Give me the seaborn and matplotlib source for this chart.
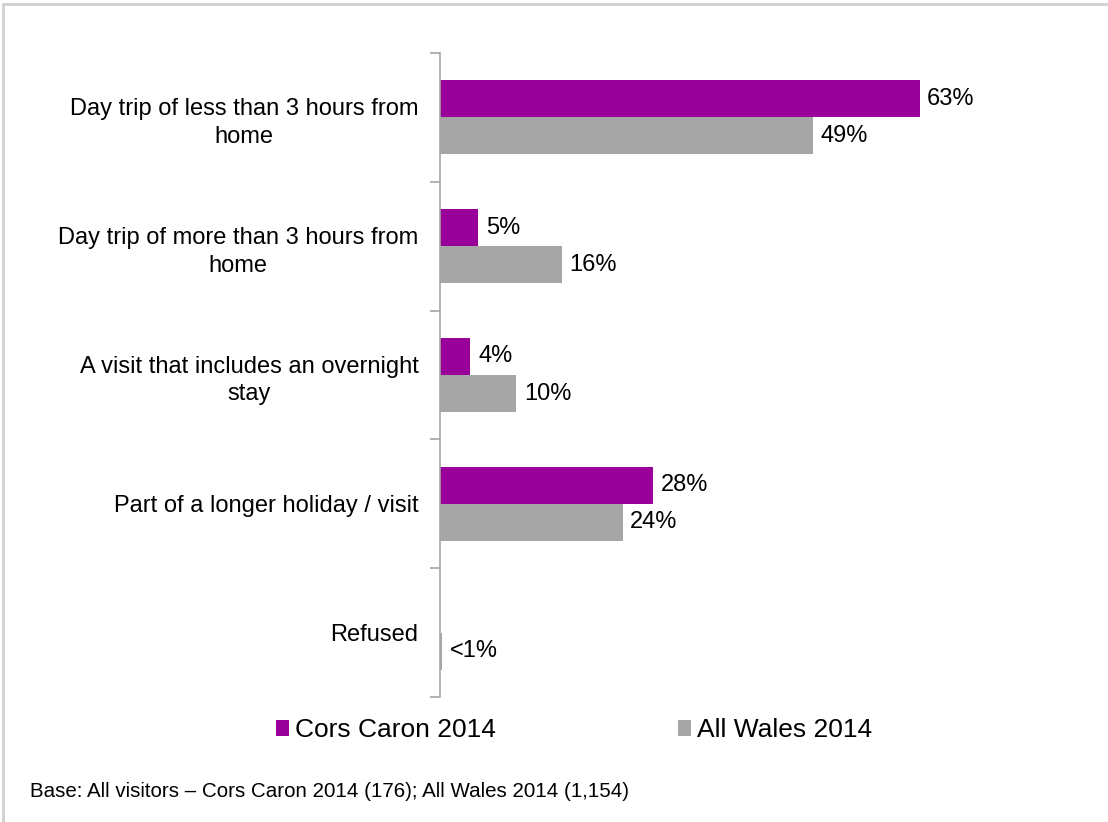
import matplotlib
matplotlib.use("Agg")
import matplotlib.pyplot as plt
import seaborn as sns
import pandas as pd
import numpy as np

categories = [
    "Day trip of less than 3 hours from\nhome",
    "Day trip of more than 3 hours from\nhome",
    "A visit that includes an overnight\nstay",
    "Part of a longer holiday / visit",
    "Refused",
]
cors_caron = [63, 5, 4, 28, 0]
all_wales = [49, 16, 10, 24, 0.3]
cors_caron_labels = ["63%", "5%", "4%", "28%", ""]
all_wales_labels = ["49%", "16%", "10%", "24%", "<1%"]
series = ["Cors Caron 2014", "All Wales 2014"]
colors = ["#990099", "#A6A6A6"]

df = pd.DataFrame({
    "category": categories * 2,
    "value": cors_caron + all_wales,
    "series": [series[0]] * len(categories) + [series[1]] * len(categories),
})

sns.set_theme(style="white")
plt.rcParams["font.family"] = ["Liberation Sans", "DejaVu Sans"]

fig = plt.figure(figsize=(11.08, 8.22), dpi=100)
ax = fig.add_axes([440 / 1108, 1 - 697 / 822, 609 / 1108, (697 - 53) / 822])

sns.barplot(data=df, x="value", y="category", hue="series", orient="h",
            palette=colors, saturation=1, width=0.575, ax=ax, legend=True,
            linewidth=0)

ax.set_xlim(0, 80)
ax.set_ylim(len(categories) - 0.5, -0.5)
ax.set_xlabel("")
ax.set_ylabel("")
ax.set_xticks([])

for s in ["top", "right", "bottom"]:
    ax.spines[s].set_visible(False)
ax.spines["left"].set_color("#A6A6A6")
ax.spines["left"].set_linewidth(1.2)

# category labels centred in each band, tick marks on band boundaries
ax.set_yticks(range(len(categories)))
ax.set_yticklabels(categories, fontsize=17, color="black", ha="right",
                   multialignment="center", linespacing=1.35)
ax.tick_params(axis="y", which="major", length=0, pad=15.5)
ax.set_yticks(np.arange(-0.5, len(categories), 1.0), minor=True)
ax.tick_params(axis="y", which="minor", length=7, width=1.2, color="#A6A6A6",
               left=True, direction="out")

for container, labels in zip(ax.containers, [cors_caron_labels, all_wales_labels]):
    ax.bar_label(container, labels=labels, padding=5.5, fontsize=17, color="black")

handles, _ = ax.get_legend_handles_labels()
ax.legend(handles, series, loc="center", bbox_to_anchor=(574 / 1108, 1 - 730 / 822),
          bbox_transform=fig.transFigure, ncol=2, frameon=False, fontsize=19,
          labelcolor="black", handlelength=0.5, handleheight=0.55,
          handletextpad=0.22, columnspacing=6.9)

fig.text(30 / 1108, 1 - 791 / 822,
         "Base: All visitors \u2013 Cors Caron 2014 (176); All Wales 2014 (1,154)",
         fontsize=14.8, color="black", va="center", ha="left")

# outer frame along top and left edges
fig.add_artist(plt.Line2D([2.5 / 1108, 2.5 / 1108], [0, 1 - 4 / 822],
                          transform=fig.transFigure, color="#D0D0D0", lw=2))
fig.add_artist(plt.Line2D([2.5 / 1108, 1], [1 - 4 / 822, 1 - 4 / 822],
                          transform=fig.transFigure, color="#D0D0D0", lw=2))

fig.savefig("out.png", dpi=100, facecolor="white")
